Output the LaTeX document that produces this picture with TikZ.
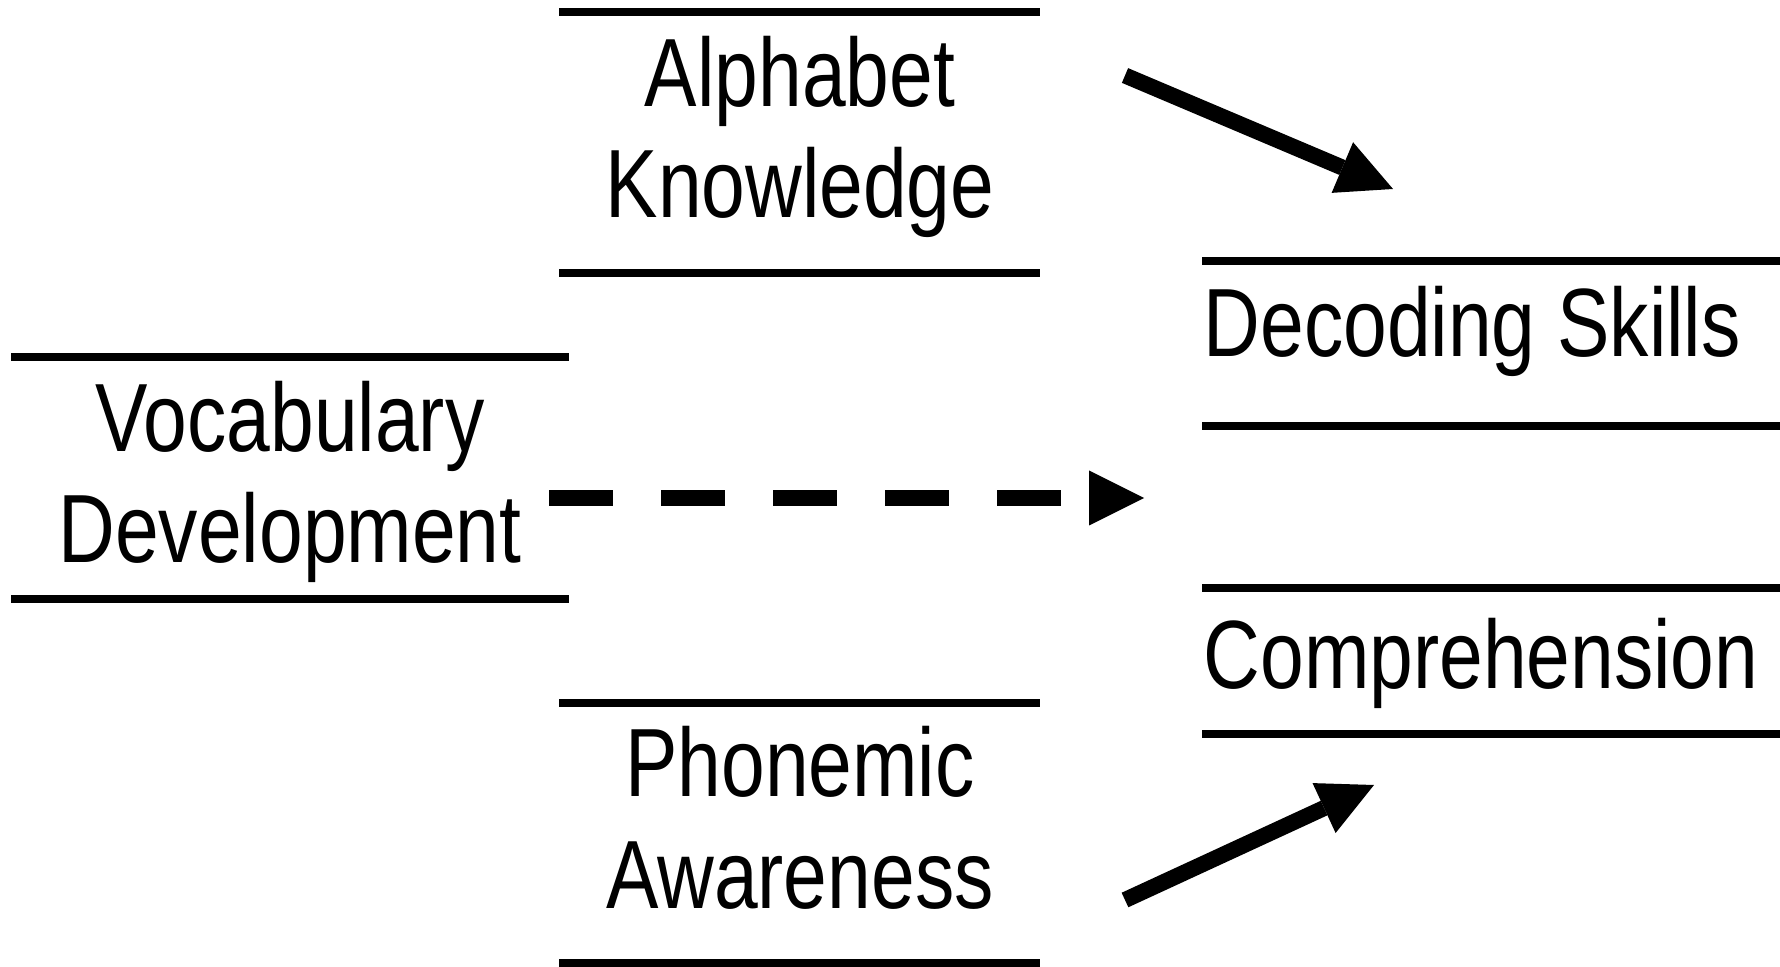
\documentclass[tikz,border=0pt]{standalone}
\usepackage{fontspec}
\setmainfont[FakeStretch=0.81]{Liberation Sans}
\usetikzlibrary{arrows.meta}

\begin{document}
\begin{tikzpicture}[x=0.1mm, y=-0.1mm]
\tikzstyle{boxline}=[line width=0.8mm]
\tikzstyle{boxtext}=[inner sep=0pt, align=center,
      font=\fontsize{27.6pt}{31.6pt}\selectfont]
\tikzstyle{flow}=[line width=1.6mm,
      -{Triangle[length=5.5mm, width=5.5mm, line width=0pt]}]
\useasboundingbox (0,0) rectangle (1780,967);

% alphabet knowledge
\draw[boxline] (559,12) -- (1040,12)
      (559,273) -- (1040,273);
\node[boxtext, anchor=base] (alpha) at (800,218) {Alphabet\\Knowledge};

% vocabulary development
\draw[boxline] (11,357) -- (569,357)
      (11,599) -- (569,599);
\node[boxtext, anchor=base] (vocab) at (290,563) {Vocabulary\\Development};

% phonemic awareness
\draw[boxline] (559,703) -- (1040,703)
      (559,963) -- (1040,963);
\node[boxtext, anchor=base] (phon) at (800,908) {Phonemic\\Awareness};

% decoding skills
\draw[boxline] (1202,261) -- (1780,261)
      (1202,426) -- (1780,426);
\node[boxtext, anchor=base west] (decode) at (1203,357) {Decoding Skills};

% comprehension
\draw[boxline] (1202,588) -- (1780,588)
      (1202,734) -- (1780,734);
\node[boxtext, anchor=base west] (compr) at (1203,688) {Comprehension};

% arrows
\coordinate (alpha-out) at (1125,75.5);
\coordinate (decode-in) at (1393,189);
\coordinate (vocab-out) at (549,498);
\coordinate (mid-in) at (1144,498);
\coordinate (phon-out) at (1125,900);
\coordinate (compr-in) at (1374,785);

\draw[flow] (alpha-out) -- (decode-in);
\draw[flow, dash pattern=on 6.4mm off 4.8mm] (vocab-out) -- (mid-in);
\draw[flow] (phon-out) -- (compr-in);
\end{tikzpicture}
\end{document}
